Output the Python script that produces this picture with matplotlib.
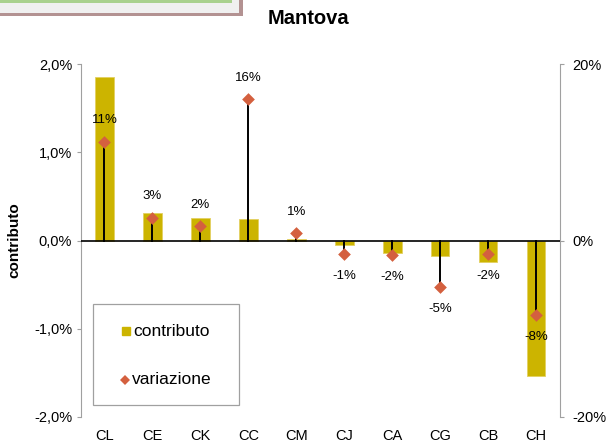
import matplotlib
matplotlib.use("Agg")
import matplotlib.pyplot as plt
from matplotlib.lines import Line2D
from matplotlib.patches import Rectangle
from matplotlib.ticker import FuncFormatter

plt.rcParams['font.family'] = ['Liberation Sans', 'DejaVu Sans']

categories = ["CL", "CE", "CK", "CC", "CM", "CJ", "CA", "CG", "CB", "CH"]
contributo = [1.85, 0.31, 0.26, 0.24, 0.02, -0.05, -0.14, -0.17, -0.24, -1.53]   # % (left axis)
variazione = [11.2, 2.6, 1.6, 16.0, 0.8, -1.5, -1.6, -5.3, -1.5, -8.4]          # % (right axis)
var_labels = ["11%", "3%", "2%", "16%", "1%", "-1%", "-2%", "-5%", "-2%", "-8%"]
left_ticks = [-2, -1, 0, 1, 2]
right_ticks = [-20, 0, 20]
legend_labels = ["contributo", "variazione"]

W, H = 612, 446
fig = plt.figure(figsize=(W / 100, H / 100), dpi=100)
fig.patch.set_facecolor("white")

def fx(px):
    return px / W

def fy(py):
    return (H - py) / H

# decorative box at top-left
fig.patches.append(Rectangle((0, fy(15.5)), fx(243), 20 / H, transform=fig.transFigure,
                             facecolor="#B39292", edgecolor="none", zorder=0))
fig.patches.append(Rectangle((0, fy(12.5)), fx(238.5), 20 / H, transform=fig.transFigure,
                             facecolor="#F0F0F0", edgecolor="none", zorder=1))
fig.patches.append(Rectangle((0, fy(2.7)), fx(232), 5 / H, transform=fig.transFigure,
                             facecolor="#A9D18E", edgecolor="none", zorder=2))

ax = fig.add_axes([fx(80.5), fy(417), 479.5 / W, 353 / H])
ax2 = ax.twinx()

x = list(range(len(categories)))
bar_color = "#CCB400"
dia_color = "#D4603F"

ax.bar(x, contributo, width=0.39, color=bar_color, edgecolor="#E3D060", linewidth=0.6, zorder=2)
ax.set_xlim(-0.5, len(categories) - 0.5)
ax.set_ylim(-2, 2)
ax.set_yticks(left_ticks)
ax.yaxis.set_major_formatter(FuncFormatter(lambda v, p: ("%.1f%%" % v).replace(".", ",")))
ax.set_xticks(x)
ax.set_xticklabels(categories)
ax.tick_params(axis="x", length=0, pad=9, labelsize=10.5)
ax.tick_params(axis="y", length=3, width=0.8, color="#A0A0A0", pad=3, labelsize=10.5)
for s in ["top", "bottom", "right"]:
    ax.spines[s].set_visible(False)
ax.spines["left"].set_color("#A0A0A0")
ax.set_ylabel("contributo", fontsize=11, fontweight="bold")
ax.yaxis.set_label_coords((21 - 80.5) / 479.5, 0.5)

ax2.set_ylim(-20, 20)
ax2.set_yticks(right_ticks)
ax2.yaxis.set_major_formatter(FuncFormatter(lambda v, p: "%d%%" % v))
ax2.tick_params(axis="y", length=3, width=0.8, color="#A0A0A0", pad=6, labelsize=10.5)
for s in ["top", "bottom", "left"]:
    ax2.spines[s].set_visible(False)
ax2.spines["right"].set_color("#A0A0A0")
ax2.axhline(0, color="black", linewidth=1.2, zorder=3)

for xi, v, lab in zip(x, variazione, var_labels):
    ax2.plot([xi, xi], [0, v], color="black", linewidth=1.4, zorder=3)
    off = 15.5 if v > 0 else -16
    ax2.annotate(lab, (xi, v), xytext=(0, off), textcoords="offset points",
                 ha="center", va="center", fontsize=9.5)
ax2.scatter(x, variazione, marker="D", s=42, color=dia_color, zorder=4, linewidths=0)

fig.text(fx(308.5), fy(18), "Mantova", ha="center", va="center", fontsize=14.5, fontweight="bold")

# legend box
fig.patches.append(Rectangle((fx(93), fy(405)), 146 / W, 101 / H, transform=fig.transFigure,
                             facecolor="white", edgecolor="#A0A0A0", linewidth=0.9, zorder=5))
fig.lines.append(Line2D([fx(125.5)], [fy(331)], marker="s", linestyle="none", color=bar_color,
                        markersize=5.8, transform=fig.transFigure, zorder=6))
fig.lines.append(Line2D([fx(125)], [fy(380)], marker="D", linestyle="none", color=dia_color,
                        markersize=5.2, markeredgewidth=0, transform=fig.transFigure, zorder=6))
fig.text(fx(133), fy(331), legend_labels[0], ha="left", va="center", fontsize=12.5, zorder=6)
fig.text(fx(132), fy(380), legend_labels[1], ha="left", va="center", fontsize=12.5, zorder=6)

fig.savefig("out.png", dpi=100)
